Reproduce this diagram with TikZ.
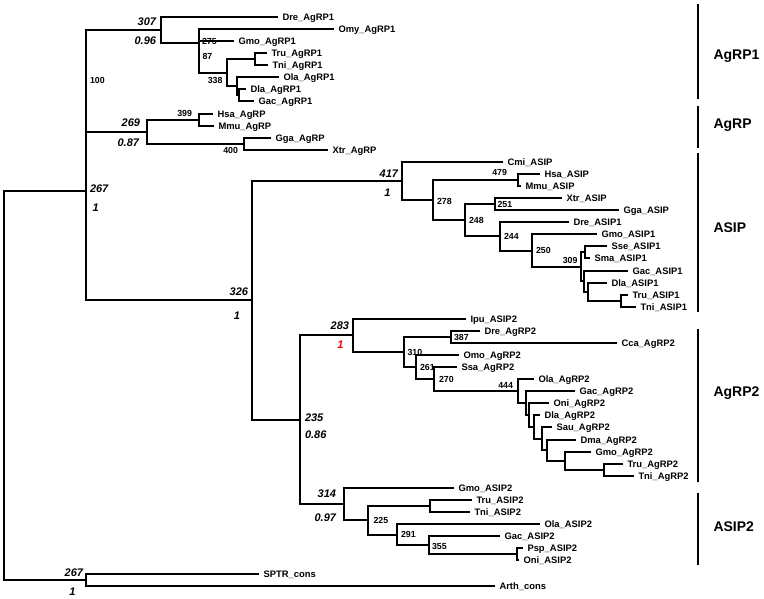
\documentclass[tikz,border=0pt]{standalone}
\usepackage{fontspec}
\setmainfont{Liberation Sans}
\begin{document}
\begin{tikzpicture}[x=1pt, y=-1pt, line width=2pt,
        leaf/.style={anchor=west, inner xsep=3.5pt, inner ysep=0pt, text height=6.8pt, text depth=0pt,
            font=\fontsize{9.4}{10}\selectfont\bfseries},
        supp/.style={inner sep=0pt, font=\fontsize{8.8}{10}\selectfont\bfseries},
        post/.style={inner sep=0pt, font=\fontsize{11}{12}\selectfont\bfseries\itshape},
        clade/.style={anchor=west, inner sep=0pt, font=\fontsize{14}{16}\selectfont\bfseries},
        cladebar/.style={line width=2.4pt}]
        \useasboundingbox (0, 0) rectangle (764, 599);
        % leaves
        \node [leaf] (DreAgRP1) at (278, 17) {Dre\_AgRP1};
        \node [leaf] (OmyAgRP1) at (334, 29) {Omy\_AgRP1};
        \node [leaf] (GmoAgRP1) at (234, 41) {Gmo\_AgRP1};
        \node [leaf] (TruAgRP1) at (267, 53) {Tru\_AgRP1};
        \node [leaf] (TniAgRP1) at (268, 65) {Tni\_AgRP1};
        \node [leaf] (OlaAgRP1) at (279, 77) {Ola\_AgRP1};
        \node [leaf] (DlaAgRP1) at (246, 89) {Dla\_AgRP1};
        \node [leaf] (GacAgRP1) at (254, 101) {Gac\_AgRP1};
        \node [leaf] (HsaAgRP) at (213, 114) {Hsa\_AgRP};
        \node [leaf] (MmuAgRP) at (214, 126) {Mmu\_AgRP};
        \node [leaf] (GgaAgRP) at (271, 138) {Gga\_AgRP};
        \node [leaf] (XtrAgRP) at (328, 150) {Xtr\_AgRP};
        \node [leaf] (CmiASIP) at (503, 162) {Cmi\_ASIP};
        \node [leaf] (HsaASIP) at (540, 174) {Hsa\_ASIP};
        \node [leaf] (MmuASIP) at (521, 186) {Mmu\_ASIP};
        \node [leaf] (XtrASIP) at (562, 198) {Xtr\_ASIP};
        \node [leaf] (GgaASIP) at (619, 210) {Gga\_ASIP};
        \node [leaf] (DreASIP1) at (569, 222) {Dre\_ASIP1};
        \node [leaf] (GmoASIP1) at (597, 234) {Gmo\_ASIP1};
        \node [leaf] (SseASIP1) at (607, 246) {Sse\_ASIP1};
        \node [leaf] (SmaASIP1) at (590, 258) {Sma\_ASIP1};
        \node [leaf] (GacASIP1) at (628, 271) {Gac\_ASIP1};
        \node [leaf] (DlaASIP1) at (607, 283) {Dla\_ASIP1};
        \node [leaf] (TruASIP1) at (628, 295) {Tru\_ASIP1};
        \node [leaf] (TniASIP1) at (636, 307) {Tni\_ASIP1};
        \node [leaf] (IpuASIP2) at (466, 319) {Ipu\_ASIP2};
        \node [leaf] (DreAgRP2) at (480, 331) {Dre\_AgRP2};
        \node [leaf] (CcaAgRP2) at (617, 343) {Cca\_AgRP2};
        \node [leaf] (OmoAgRP2) at (459, 355) {Omo\_AgRP2};
        \node [leaf] (SsaAgRP2) at (457, 367) {Ssa\_AgRP2};
        \node [leaf] (OlaAgRP2) at (534, 379) {Ola\_AgRP2};
        \node [leaf] (GacAgRP2) at (575, 391) {Gac\_AgRP2};
        \node [leaf] (OniAgRP2) at (549, 403) {Oni\_AgRP2};
        \node [leaf] (DlaAgRP2) at (540, 415) {Dla\_AgRP2};
        \node [leaf] (SauAgRP2) at (552, 427) {Sau\_AgRP2};
        \node [leaf] (DmaAgRP2) at (576, 440) {Dma\_AgRP2};
        \node [leaf] (GmoAgRP2) at (591, 452) {Gmo\_AgRP2};
        \node [leaf] (TruAgRP2) at (623, 464) {Tru\_AgRP2};
        \node [leaf] (TniAgRP2) at (634, 476) {Tni\_AgRP2};
        \node [leaf] (GmoASIP2) at (454, 488) {Gmo\_ASIP2};
        \node [leaf] (TruASIP2) at (472, 500) {Tru\_ASIP2};
        \node [leaf] (TniASIP2) at (470, 512) {Tni\_ASIP2};
        \node [leaf] (OlaASIP2) at (540, 524) {Ola\_ASIP2};
        \node [leaf] (GacASIP2) at (500, 536) {Gac\_ASIP2};
        \node [leaf] (PspASIP2) at (523, 548) {Psp\_ASIP2};
        \node [leaf] (OniASIP2) at (519, 560) {Oni\_ASIP2};
        \node [leaf] (SPTR) at (259, 574) {SPTR\_cons};
        \node [leaf] (Arth) at (495, 586) {Arth\_cons};
        % internal nodes
        \coordinate (root) at (4, 385);
        \coordinate (n267) at (86, 191);
        \coordinate (n100) at (86, 81);
        \coordinate (n307) at (161, 30);
        \coordinate (n275) at (199, 43);
        \coordinate (n87) at (199, 57);
        \coordinate (n338) at (227, 73);
        \coordinate (tt1) at (255, 59);
        \coordinate (od1) at (237, 86);
        \coordinate (dg1) at (239, 95);
        \coordinate (n269) at (147, 132);
        \coordinate (n399) at (199, 120);
        \coordinate (n400) at (244, 144);
        \coordinate (n326) at (252, 300);
        \coordinate (n417) at (402, 181);
        \coordinate (n278) at (433, 200);
        \coordinate (n479) at (518, 180);
        \coordinate (n248) at (465, 220);
        \coordinate (n251) at (495, 204);
        \coordinate (n244) at (500, 236);
        \coordinate (n250) at (532, 251);
        \coordinate (n309) at (581, 267);
        \coordinate (ss2) at (585, 252);
        \coordinate (gdt2) at (584, 281);
        \coordinate (dt2) at (588, 292);
        \coordinate (tt2) at (621, 301);
        \coordinate (n235) at (300, 420);
        \coordinate (n283) at (353, 335);
        \coordinate (n310) at (404, 352);
        \coordinate (n387) at (451, 337);
        \coordinate (n261) at (416, 367);
        \coordinate (n270) at (434, 379);
        \coordinate (n444) at (518, 391);
        \coordinate (a3) at (526, 403);
        \coordinate (b3) at (529, 415);
        \coordinate (c3) at (534, 427);
        \coordinate (d3) at (542, 439);
        \coordinate (e3) at (547, 450);
        \coordinate (f3) at (565, 461);
        \coordinate (tt3) at (604, 470);
        \coordinate (n314) at (344, 504);
        \coordinate (n225) at (368, 520);
        \coordinate (tt4) at (430, 506);
        \coordinate (n291) at (397, 535);
        \coordinate (n355) at (429, 545);
        \coordinate (po4) at (517, 554);
        \coordinate (n267b) at (86, 580);
        % branches
        \draw (n267) -| (root) |- (n267b);
        \draw (n100) -| (n267) |- (n326);
        \draw (n307) -| (n100) |- (n269);
        \draw (DreAgRP1) -| (n307) |- (n275);
        \draw (OmyAgRP1) -| (n275) |- (n87);
        \draw (GmoAgRP1) -| (n87) |- (n338);
        \draw (tt1) -| (n338) |- (od1);
        \draw (TruAgRP1) -| (tt1) |- (TniAgRP1);
        \draw (OlaAgRP1) -| (od1) |- (dg1);
        \draw (DlaAgRP1) -| (dg1) |- (GacAgRP1);
        \draw (n399) -| (n269) |- (n400);
        \draw (HsaAgRP) -| (n399) |- (MmuAgRP);
        \draw (GgaAgRP) -| (n400) |- (XtrAgRP);
        \draw (n417) -| (n326) |- (n235);
        \draw (CmiASIP) -| (n417) |- (n278);
        \draw (n479) -| (n278) |- (n248);
        \draw (HsaASIP) -| (n479) |- (MmuASIP);
        \draw (n251) -| (n248) |- (n244);
        \draw (XtrASIP) -| (n251) |- (GgaASIP);
        \draw (DreASIP1) -| (n244) |- (n250);
        \draw (GmoASIP1) -| (n250) |- (n309);
        \draw (ss2) -| (n309) |- (gdt2);
        \draw (SseASIP1) -| (ss2) |- (SmaASIP1);
        \draw (GacASIP1) -| (gdt2) |- (dt2);
        \draw (DlaASIP1) -| (dt2) |- (tt2);
        \draw (TruASIP1) -| (tt2) |- (TniASIP1);
        \draw (n283) -| (n235) |- (n314);
        \draw (IpuASIP2) -| (n283) |- (n310);
        \draw (n387) -| (n310) |- (n261);
        \draw (DreAgRP2) -| (n387) |- (CcaAgRP2);
        \draw (OmoAgRP2) -| (n261) |- (n270);
        \draw (SsaAgRP2) -| (n270) |- (n444);
        \draw (OlaAgRP2) -| (n444) |- (a3);
        \draw (GacAgRP2) -| (a3) |- (b3);
        \draw (OniAgRP2) -| (b3) |- (c3);
        \draw (DlaAgRP2) -| (c3) |- (d3);
        \draw (SauAgRP2) -| (d3) |- (e3);
        \draw (DmaAgRP2) -| (e3) |- (f3);
        \draw (GmoAgRP2) -| (f3) |- (tt3);
        \draw (TruAgRP2) -| (tt3) |- (TniAgRP2);
        \draw (GmoASIP2) -| (n314) |- (n225);
        \draw (tt4) -| (n225) |- (n291);
        \draw (TruASIP2) -| (tt4) |- (TniASIP2);
        \draw (OlaASIP2) -| (n291) |- (n355);
        \draw (GacASIP2) -| (n355) |- (po4);
        \draw (PspASIP2) -| (po4) |- (OniASIP2);
        \draw (SPTR) -| (n267b) |- (Arth);
        % bootstrap and posterior values
        \node [post, anchor=east] (b307) at (157, 22) {307};
        \node [post, anchor=east] (p307) at (157, 41) {0.96};
        \node [post, anchor=west] (b267) at (89, 189) {267};
        \node [post] (p267) at (95.8, 208) {1};
        \node [post, anchor=east] (b269) at (141, 123) {269};
        \node [post, anchor=east] (p269) at (140, 143) {0.87};
        \node [post, anchor=east] (b417) at (399, 174) {417};
        \node [post] (p417) at (387.5, 193) {1};
        \node [post, anchor=east] (b326) at (249, 292) {326};
        \node [post] (p326) at (237, 315.5) {1};
        \node [post, anchor=east] (b283) at (350, 326) {283};
        \node [post, red] (p283) at (340.5, 345) {1};
        \node [post, anchor=west] (b235) at (304, 418) {235};
        \node [post, anchor=west] (p235) at (304, 435) {0.86};
        \node [post, anchor=east] (b314) at (337, 494) {314};
        \node [post, anchor=east] (p314) at (337, 518) {0.97};
        \node [post, anchor=east] (b267b) at (84, 573) {267};
        \node [post] (p267b) at (72.5, 591.5) {1};
        \node [supp, anchor=west] (s100) at (89, 80) {100};
        \node [supp, anchor=west] (s275) at (201, 41.7) {275};
        \node [supp, anchor=west] (s87) at (201.5, 56) {87};
        \node [supp, anchor=east] (s338) at (223.5, 80) {338};
        \node [supp, anchor=east] (s399) at (193, 113) {399};
        \node [supp, anchor=east] (s400) at (239, 150) {400};
        \node [supp, anchor=west] (s278) at (436, 201) {278};
        \node [supp, anchor=east] (s479) at (508, 172) {479};
        \node [supp, anchor=west] (s251) at (496.5, 204) {251};
        \node [supp, anchor=west] (s248) at (468, 220) {248};
        \node [supp, anchor=west] (s244) at (503, 236) {244};
        \node [supp, anchor=west] (s250) at (535, 250) {250};
        \node [supp, anchor=east] (s309) at (578.5, 260) {309};
        \node [supp, anchor=west] (s387) at (453, 337) {387};
        \node [supp, anchor=west] (s310) at (406.5, 352) {310};
        \node [supp, anchor=west] (s261) at (419, 367) {261};
        \node [supp, anchor=west] (s270) at (438, 379.3) {270};
        \node [supp, anchor=east] (s444) at (514, 385) {444};
        \node [supp, anchor=west] (s225) at (372.5, 520.5) {225};
        \node [supp, anchor=west] (s291) at (400, 534.5) {291};
        \node [supp, anchor=west] (s355) at (431, 546) {355};
        % clades
        \draw [cladebar] (698, 4) -- (698, 99);
        \draw [cladebar] (698, 106) -- (698, 148);
        \draw [cladebar] (698, 153) -- (698, 312);
        \draw [cladebar] (698, 329) -- (698, 482);
        \draw [cladebar] (698, 493) -- (698, 565);
        \node [clade] (cAgRP1) at (712.5, 56) {AgRP1};
        \node [clade] (cAgRP) at (712.5, 125) {AgRP};
        \node [clade] (cASIP) at (712.5, 228) {ASIP};
        \node [clade] (cAgRP2) at (712.5, 393) {AgRP2};
        \node [clade] (cASIP2) at (712.5, 527) {ASIP2};
    \end{tikzpicture}
\end{document}
